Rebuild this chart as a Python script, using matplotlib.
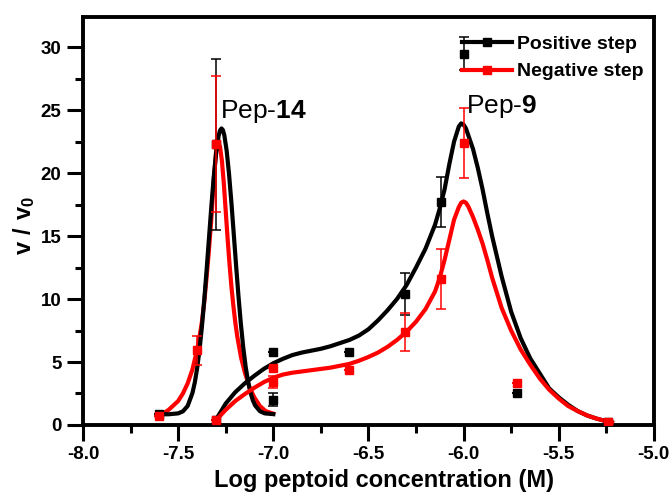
import numpy as np
import matplotlib
matplotlib.use('Agg')
import matplotlib.pyplot as plt
from matplotlib.lines import Line2D

plt.rcParams['font.family'] = ['Liberation Sans', 'DejaVu Sans']
plt.rcParams['mathtext.fontset'] = 'custom'
plt.rcParams['mathtext.rm'] = 'Liberation Sans'
plt.rcParams['mathtext.bf'] = 'Liberation Sans:bold'
plt.rcParams['axes.unicode_minus'] = False

# measured points, Pep-14
p14_x_pos = [-7.6, -7.3, -7.0]
p14_y_pos = [0.85, 22.3, 2.0]
p14_e_pos = [0, 6.8, 0.5]
p14_x_neg = [-7.6, -7.4, -7.3, -7.0]
p14_y_neg = [0.7, 5.95, 22.3, 3.4]
p14_e_neg = [0, 1.15, 5.4, 0.5]

# measured points, Pep-9
p9_x = [-7.3, -7.0, -6.6, -6.31, -6.12, -6.0, -5.72, -5.24]
p9_y_pos = [0.4, 5.8, 5.8, 10.4, 17.7, 29.5, 2.5, 0.2]
p9_e_pos = [0, 0, 0, 1.7, 2.0, 1.3, 0, 0]
p9_y_neg = [0.4, 4.5, 4.4, 7.4, 11.6, 22.4, 3.3, 0.2]
p9_e_neg = [0, 0, 0, 1.5, 2.4, 2.8, 0, 0]

# fitted curves
fit14_x_pos = [-7.6, -7.55, -7.5, -7.475, -7.45, -7.425, -7.4125, -7.4, -7.3875, -7.375,
               -7.3625, -7.35, -7.3375, -7.325, -7.3125, -7.3, -7.2875, -7.28, -7.272, -7.265,
               -7.2575, -7.245, -7.2325, -7.22, -7.2075, -7.195, -7.1825, -7.17, -7.1575, -7.145,
               -7.1325, -7.12, -7.1075, -7.095, -7.07, -7.045, -7.0]
fit14_y_pos = [0.85, 0.85, 0.92, 1.08, 1.51, 2.53, 3.37, 4.51, 5.99, 7.81,
               9.97, 12.38, 14.92, 17.45, 19.76, 21.65, 22.95, 23.39, 23.55, 23.43,
               23.03, 21.78, 19.93, 17.65, 15.13, 12.58, 10.15, 7.97, 6.12, 4.61,
               3.45, 2.58, 1.96, 1.54, 1.09, 0.92, 0.86]
fit14_x_neg = [-7.6, -7.55, -7.5, -7.475, -7.45, -7.425, -7.4, -7.3875, -7.375, -7.3625,
               -7.35, -7.3375, -7.325, -7.3125, -7.3, -7.29, -7.28, -7.27, -7.26, -7.25,
               -7.24, -7.23, -7.22, -7.21, -7.2, -7.19, -7.17, -7.15, -7.125, -7.1,
               -7.07, -7.04, -7.0]
fit14_y_neg = [0.7, 1.2, 1.9, 2.5, 3.3, 4.4, 6.0, 7.0, 8.2, 9.8,
               11.8, 14.0, 16.5, 19.5, 21.8, 22.4, 22.1, 21.0, 19.2, 17.0,
               14.8, 12.8, 11.0, 9.5, 8.2, 7.1, 5.4, 4.2, 3.0, 2.2,
               1.5, 1.1, 0.9]

fit9_x = [-7.3, -7.25, -7.2, -7.15, -7.1, -7.05, -7.0, -6.95, -6.9, -6.85,
          -6.8, -6.75, -6.7, -6.65, -6.6, -6.55, -6.5, -6.45, -6.4, -6.35,
          -6.3, -6.25, -6.2, -6.15, -6.125, -6.1, -6.075, -6.05, -6.025, -6.0125,
          -6.0, -5.9875, -5.975, -5.95, -5.925, -5.9, -5.875, -5.85, -5.8, -5.75,
          -5.7, -5.65, -5.6, -5.55, -5.5, -5.45, -5.4, -5.35, -5.3, -5.25, -5.22]
fit9_y_pos = [0.45, 1.7, 2.6, 3.3, 3.9, 4.45, 4.9, 5.25, 5.55, 5.75,
              5.9, 6.05, 6.25, 6.5, 6.75, 7.1, 7.6, 8.3, 9.1, 10.0,
              11.1, 12.5, 14.0, 15.9, 17.2, 18.7, 20.7, 22.5, 23.7, 23.95,
              23.85, 23.55, 23.0, 21.9, 20.4, 18.7, 16.8, 15.0, 11.8, 9.0,
              6.9, 5.3, 4.1, 2.9, 2.2, 1.6, 1.1, 0.75, 0.5, 0.3, 0.2]
fit9_y_neg = [0.4, 1.2, 1.9, 2.45, 2.95, 3.4, 3.75, 4.0, 4.15, 4.25,
              4.35, 4.45, 4.55, 4.7, 4.85, 5.1, 5.4, 5.75, 6.2, 6.75,
              7.4, 8.2, 9.2, 10.6, 11.7, 13.1, 14.7, 16.3, 17.3, 17.65,
              17.75, 17.65, 17.35, 16.5, 15.5, 14.4, 13.1, 11.7, 9.3, 7.5,
              6.0, 4.8, 3.7, 2.8, 2.1, 1.5, 1.1, 0.75, 0.5, 0.3, 0.2]

fig, ax = plt.subplots(figsize=(6.72, 4.93), dpi=100)
fig.subplots_adjust(left=0.1235, right=0.973, bottom=0.138, top=0.9655)

lw = 3.0
ax.plot(fit14_x_neg, fit14_y_neg, color='red', lw=lw, zorder=3, solid_joinstyle='round')
ax.plot(fit14_x_pos, fit14_y_pos, color='black', lw=lw, zorder=3, solid_joinstyle='round')
ax.plot(fit9_x, fit9_y_pos, color='black', lw=lw, zorder=3, solid_joinstyle='round')
ax.plot(fit9_x, fit9_y_neg, color='red', lw=lw, zorder=3, solid_joinstyle='round')

eb = dict(fmt='s', ms=6, elinewidth=1.1, capsize=3.5, capthick=1.1, zorder=4)
ax.errorbar(p14_x_pos, p14_y_pos, yerr=p14_e_pos, color='black', **eb)
ax.errorbar(p14_x_neg, p14_y_neg, yerr=p14_e_neg, color='red', **eb)
ax.errorbar(p9_x, p9_y_pos, yerr=p9_e_pos, color='black', **eb)
ax.errorbar(p9_x, p9_y_neg, yerr=p9_e_neg, color='red', **eb)

ax.text(-7.282, 24.4, r'Pep-$\mathbf{14}$', fontsize=19, va='baseline', ha='left')
ax.text(-5.986, 24.8, r'Pep-$\mathbf{9}$', fontsize=19, va='baseline', ha='left')

ax.set_xlim(-8.0, -5.0)
ax.set_ylim(0, 32.4)
ax.set_xticks(np.arange(-8.0, -4.99, 0.5))
ax.set_xticks(np.arange(-7.75, -5.0, 0.5), minor=True)
ax.set_yticks(np.arange(0, 31, 5))
ax.set_yticks(np.arange(2.5, 32.4, 5), minor=True)
ax.set_xticklabels(['%.1f' % v for v in np.arange(-8.0, -4.99, 0.5)])

for s in ax.spines.values():
    s.set_linewidth(2.8)
ax.tick_params(which='major', direction='out', length=11.5, width=2.2, labelsize=13.5, pad=4)
ax.tick_params(which='minor', direction='out', length=6, width=2.2)
for lbl in ax.get_xticklabels() + ax.get_yticklabels():
    lbl.set_fontweight('bold')

ax.set_xlabel('Log peptoid concentration (M)', fontsize=17, fontweight='bold', va='top')
ax.xaxis.set_label_coords(0.528, -0.108)
ax.set_ylabel(r'$\mathbf{v\ /\ v_0}$', fontsize=17)
ax.yaxis.set_label_coords(-0.08, 0.49)

handles = [Line2D([], [], color='black', lw=3, marker='s', ms=6),
           Line2D([], [], color='red', lw=3, marker='s', ms=6)]
ax.legend(handles, ['Positive step', 'Negative step'], loc='upper right',
          bbox_to_anchor=(0.982, 0.955), frameon=False, borderpad=0, borderaxespad=0,
          handlelength=2.6, handletextpad=0.25, labelspacing=0.5,
          prop={'weight': 'bold', 'size': 14})

fig.savefig('out.png', dpi=100)
